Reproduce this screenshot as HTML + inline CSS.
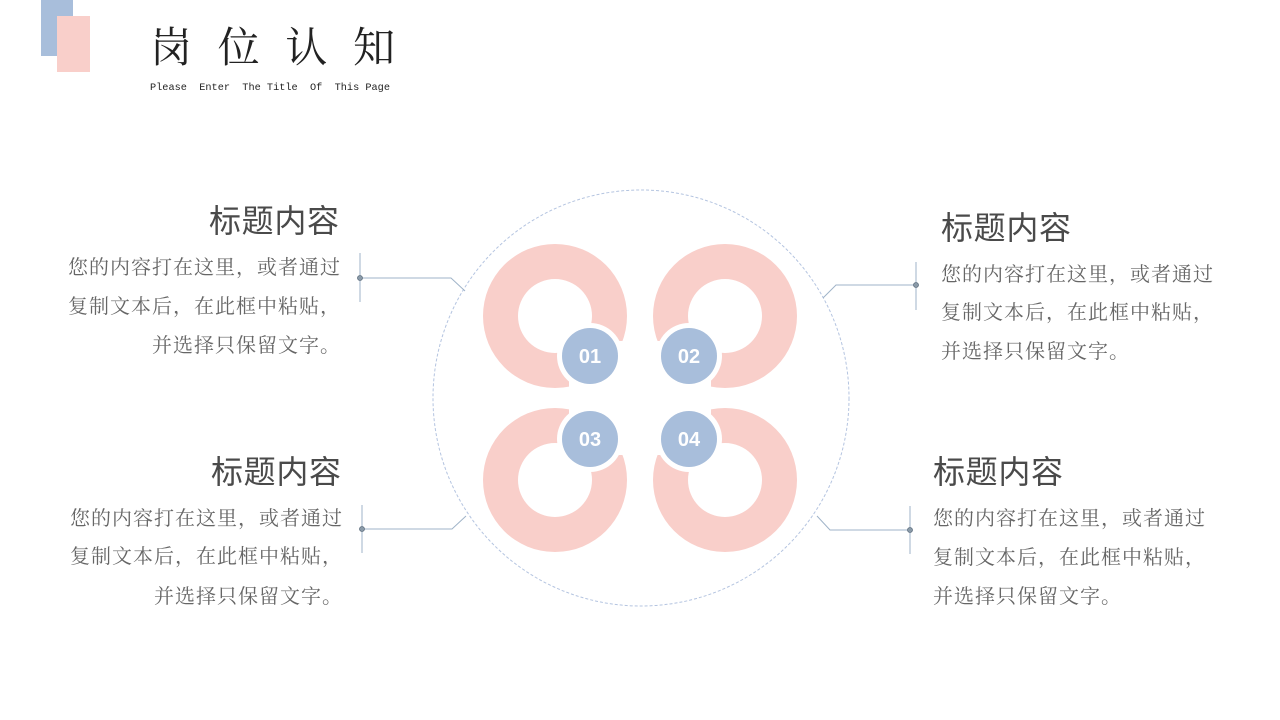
<!DOCTYPE html>
<html><head><meta charset="utf-8"><style>
html,body{margin:0;padding:0;background:#fff;}
svg{display:block}
.t{font-family:"Liberation Sans","Noto Sans CJK SC",sans-serif;font-size:32px;fill:#4a4a4a;}
.b{font-family:"Noto Serif CJK SC","Liberation Serif",serif;font-size:20px;fill:#666;}
</style></head><body>
<svg width="1280" height="720" viewBox="0 0 1280 720" xmlns="http://www.w3.org/2000/svg">
<rect x="41" y="0" width="32" height="56" fill="#a8bedb"/>
<rect x="57" y="16" width="33" height="56" fill="#f9cfca"/>
<text x="150" y="62" font-family="'Noto Serif CJK SC','Liberation Serif',serif" font-size="42" fill="#222" textLength="245" lengthAdjust="spacing">岗位认知</text>
<text x="150" y="90" font-family="'Liberation Mono',monospace" font-size="10.5" fill="#222" xml:space="preserve" textLength="240" lengthAdjust="spacingAndGlyphs">Please  Enter  The Title  Of  This Page</text>

<circle cx="641" cy="398" r="208" fill="none" stroke="#b4c4e0" stroke-width="1" stroke-dasharray="3,2"/>

<g fill="#f9cfca">
<path fill-rule="evenodd" d="M483,316a72,72 0 1,0 144,0a72,72 0 1,0 -144,0ZM518,316a37,37 0 1,1 74,0a37,37 0 1,1 -74,0Z"/>
<path fill-rule="evenodd" d="M653,316a72,72 0 1,0 144,0a72,72 0 1,0 -144,0ZM688,316a37,37 0 1,1 74,0a37,37 0 1,1 -74,0Z"/>
<path fill-rule="evenodd" d="M483,480a72,72 0 1,0 144,0a72,72 0 1,0 -144,0ZM518,480a37,37 0 1,1 74,0a37,37 0 1,1 -74,0Z"/>
<path fill-rule="evenodd" d="M653,480a72,72 0 1,0 144,0a72,72 0 1,0 -144,0ZM688,480a37,37 0 1,1 74,0a37,37 0 1,1 -74,0Z"/>
</g>
<g fill="#fff">
<rect x="569" y="341" width="60" height="50"/>
<rect x="650" y="341" width="61" height="50"/>
<rect x="569" y="405" width="60" height="50"/>
<rect x="650" y="405" width="61" height="50"/>
<circle cx="590" cy="356" r="33"/><circle cx="689" cy="356" r="33"/>
<circle cx="590" cy="439" r="33"/><circle cx="689" cy="439" r="33"/>
</g>
<g fill="#a8bedb">
<circle cx="590" cy="356" r="28"/><circle cx="689" cy="356" r="28"/>
<circle cx="590" cy="439" r="28"/><circle cx="689" cy="439" r="28"/>
</g>
<g font-family="'Liberation Sans',sans-serif" font-weight="bold" font-size="20" fill="#fff" text-anchor="middle">
<text x="590" y="363">01</text><text x="689" y="363">02</text>
<text x="590" y="446">03</text><text x="689" y="446">04</text>
</g>

<g stroke="#9fb3c8" stroke-width="1" fill="none">
<path d="M360,253V302M360,278H451L465,291"/>
<path d="M916,262V310M916,285H836L823,298"/>
<path d="M362,505V553M362,529H452L466,516"/>
<path d="M910,506V554M910,530H830L817,516"/>
</g>
<g fill="#8a9aa8" stroke="#5f6f7f" stroke-width="0.8">
<circle cx="360" cy="278" r="2.5"/><circle cx="916" cy="285" r="2.5"/>
<circle cx="362" cy="529" r="2.5"/><circle cx="910" cy="530" r="2.5"/>
</g>

<text class="t" x="209" y="232" textLength="130" lengthAdjust="spacing">标题内容</text>
<text class="b" x="68" y="274" textLength="272" lengthAdjust="spacing">您的内容打在这里，或者通过</text>
<text class="b" x="68" y="313" textLength="272" lengthAdjust="spacing">复制文本后，在此框中粘贴，</text>
<text class="b" x="152" y="352" textLength="188" lengthAdjust="spacing">并选择只保留文字。</text>
<text class="t" x="211" y="483" textLength="130" lengthAdjust="spacing">标题内容</text>
<text class="b" x="70" y="525" textLength="272" lengthAdjust="spacing">您的内容打在这里，或者通过</text>
<text class="b" x="70" y="563" textLength="272" lengthAdjust="spacing">复制文本后，在此框中粘贴，</text>
<text class="b" x="154" y="603" textLength="188" lengthAdjust="spacing">并选择只保留文字。</text>

<text class="t" x="941" y="239" textLength="130" lengthAdjust="spacing">标题内容</text>
<text class="b" x="941" y="281" textLength="272" lengthAdjust="spacing">您的内容打在这里，或者通过</text>
<text class="b" x="941" y="319" textLength="272" lengthAdjust="spacing">复制文本后，在此框中粘贴，</text>
<text class="b" x="941" y="358" textLength="188" lengthAdjust="spacing">并选择只保留文字。</text>
<text class="t" x="933" y="483" textLength="130" lengthAdjust="spacing">标题内容</text>
<text class="b" x="933" y="525" textLength="272" lengthAdjust="spacing">您的内容打在这里，或者通过</text>
<text class="b" x="933" y="564" textLength="272" lengthAdjust="spacing">复制文本后，在此框中粘贴，</text>
<text class="b" x="933" y="603" textLength="188" lengthAdjust="spacing">并选择只保留文字。</text>
</svg>
</body></html>
